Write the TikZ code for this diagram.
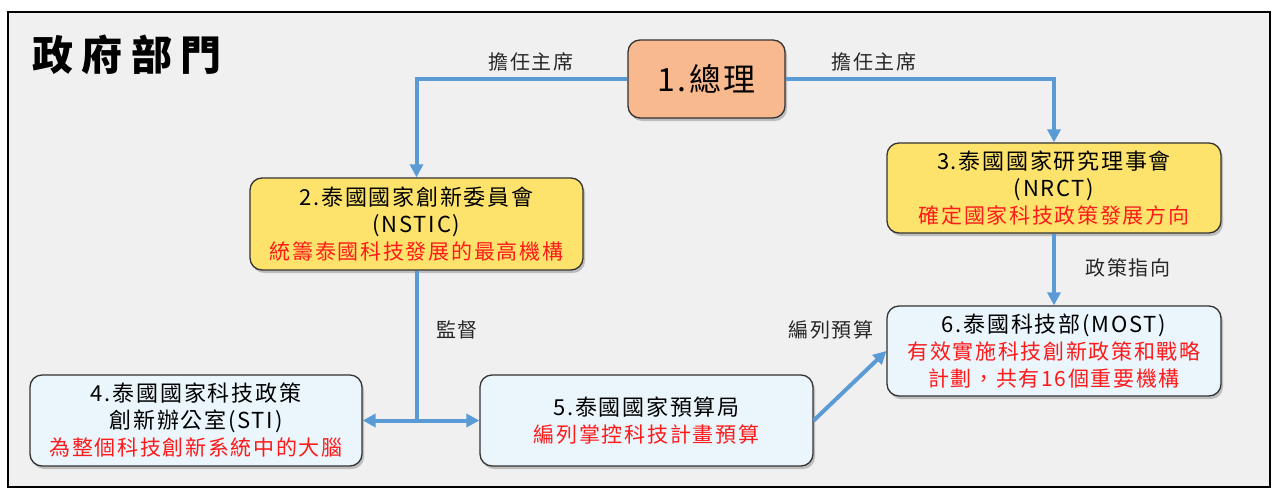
\documentclass[tikz,border=0pt]{standalone}
\usepackage{fontspec}
\setmainfont{Noto Sans CJK TC}[LetterSpace=8]
\newfontfamily\titlefont{Noto Sans CJK TC}[LetterSpace=20]
\usetikzlibrary{arrows.meta,shadows}
\definecolor{bg}{HTML}{F0F0F0}
\definecolor{arrowblue}{HTML}{5B9BD5}
\definecolor{orangebox}{HTML}{F9B98E}
\definecolor{yellowbox}{HTML}{FDE36C}
\definecolor{bluebox}{HTML}{EAF5FC}
\definecolor{redtext}{HTML}{FF1A1A}
\tikzset{
  box/.style={draw=black!80, line width=1.3pt, rounded corners=12pt, align=center,
    inner sep=0pt, font=\fontsize{22}{27}\selectfont,
    drop shadow={shadow xshift=2pt, shadow yshift=-3pt, opacity=0.45}},
  chair/.style={box, fill=orangebox, font=\fontsize{32}{36}\selectfont},
  council/.style={box, fill=yellowbox},
  agency/.style={box, fill=bluebox},
  conn/.style={draw=arrowblue, line width=4pt},
  arr/.style={conn, -{Triangle[length=13pt,width=13pt]}},
  darr/.style={conn, {Triangle[length=13pt,width=13pt]}-{Triangle[length=13pt,width=13pt]}},
  lbl/.style={font=\fontsize{20}{24}\selectfont, text=black!85},
  ttl/.style={font=\titlefont\fontsize{41}{44}\selectfont\bfseries}
}
\newcommand{\redline}[1]{{\color{redtext}\fontsize{21}{27}\selectfont #1}}
\begin{document}
\begin{tikzpicture}[x=1pt,y=-1pt]
\useasboundingbox (0,0) rectangle (1277,490);
\fill[white] (0,0) rectangle (1277,490);
\draw[fill=bg, line width=2pt] (8,12) rectangle (1270,487);

\node[ttl] (title) at (127,55) {政府部門};

\node[chair, minimum width=157pt, minimum height=78pt] (n1) at (706.5,79) {1.總理};
\node[council, minimum width=333pt, minimum height=92pt] (n2) at (416.5,224)
  {2.泰國國家創新委員會\\(NSTIC)\\\redline{統籌泰國科技發展的最高機構}};
\node[council, minimum width=334pt, minimum height=90pt] (n3) at (1054,188)
  {3.泰國國家研究理事會\\(NRCT)\\\redline{確定國家科技政策發展方向}};
\node[agency, minimum width=332pt, minimum height=91pt] (n4) at (196,420.5)
  {4.泰國國家科技政策\\創新辦公室(STI)\\\redline{為整個科技創新系統中的大腦}};
\node[agency, minimum width=333pt, minimum height=91pt] (n5) at (646.5,420.5)
  {5.泰國國家預算局\\\redline{編列掌控科技計畫預算}};
\node[agency, minimum width=334pt, minimum height=90pt] (n6) at (1054,351)
  {6.泰國科技部(MOST)\\\redline{有效實施科技創新政策和戰略}\\\redline{計劃，共有16個重要機構}};

\coordinate (j) at (n2.south |- n4.east);

\draw[arr] (n1.west) -| (n2.north);
\draw[arr] (n1.east) -| (n3.north);
\draw[conn] (n2.south) -- (j);
\draw[darr] (n4.east) -- (n5.west);
\draw[arr] (n3.south) -- (n6.north);
\draw[arr] (n5.east) -- (n6.west);

\node[lbl] (l1) at (531,62) {擔任主席};
\node[lbl] (l2) at (874,62) {擔任主席};
\node[lbl] (l3) at (457,330) {監督};
\node[lbl] (l4) at (1128,268) {政策指向};
\node[lbl] (l5) at (831,330) {編列預算};
\end{tikzpicture}
\end{document}
